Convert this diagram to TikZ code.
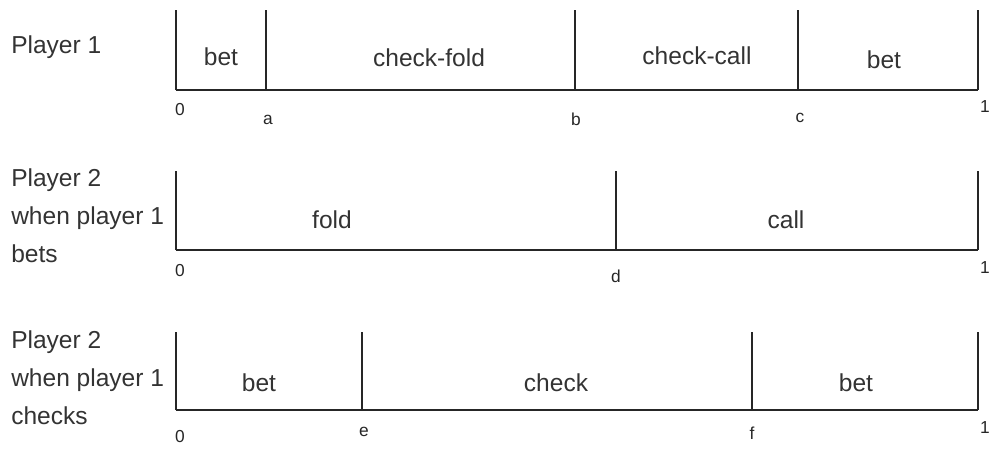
\documentclass[tikz,border=0pt]{standalone}
\usepackage{fontspec}
\setmainfont{Liberation Sans}
\usetikzlibrary{positioning}
\tikzset{>=latex}
\tikzset{axisline/.style={line width=1pt, draw=black!85}}
\tikzset{seglabel/.style={font=\fontsize{18.4}{22}\selectfont, text=black!80, inner sep=0pt}}
\tikzset{ticklabel/.style={font=\fontsize{13}{15}\selectfont, text=black!85, inner sep=0pt}}
\tikzset{rowlabel/.style={font=\fontsize{18.4}{28.5}\selectfont, align=left,
    text=black!80, inner sep=0pt}}

\begin{document}
\begin{tikzpicture}[x=0.75pt, y=-0.75pt]
  \useasboundingbox (0,0) rectangle (997,450);
  % row 1: player 1
  \foreach \name/\x in {oz/176, oa/266, ob/575, oc/798, oo/978} {
    \coordinate (\name) at (\x,90);
    \coordinate (\name-top) at (\x,10);
  }
  \draw[axisline] (oz) -- (oo);
  \foreach \name in {oz, oa, ob, oc, oo}
    \draw[axisline] (\name) -- (\name-top);
  \node[rowlabel, anchor=base west] (pone) at (11,53) {Player 1};
  \node[seglabel] (obet) at (221,57) {bet};
  \node[seglabel] (ocf) at (429,58) {check-fold};
  \node[seglabel] (occ) at (697,56) {check-call};
  \node[seglabel] (obet2) at (884,60) {bet};
  \node[ticklabel] (ozl) at (180,110) {0};
  \node[ticklabel] (oal) at (268,120) {a};
  \node[ticklabel] (obl) at (576,119) {b};
  \node[ticklabel] (ocl) at (800,118) {c};
  \node[ticklabel] (ool) at (985,107) {1};

  % row 2: player 2 after a bet
  \foreach \name/\x in {tz/176, td/616, to/978} {
    \coordinate (\name) at (\x,250);
    \coordinate (\name-top) at (\x,171);
  }
  \draw[axisline] (tz) -- (to);
  \foreach \name in {tz, td, to}
    \draw[axisline] (\name) -- (\name-top);
  \node[rowlabel, anchor=west] (ptwo) at (11,216) {Player 2\\when player 1\\bets};
  \node[seglabel] (tfold) at (332,220) {fold};
  \node[seglabel] (tcall) at (786,220) {call};
  \node[ticklabel] (tzl) at (180,271) {0};
  \node[ticklabel] (tdl) at (616,276) {d};
  \node[ticklabel] (tol) at (985,268) {1};

  % row 3: player 2 after a check
  \foreach \name/\x in {hz/176, he/362, hf/752, ho/978} {
    \coordinate (\name) at (\x,410);
    \coordinate (\name-top) at (\x,332);
  }
  \draw[axisline] (hz) -- (ho);
  \foreach \name in {hz, he, hf, ho}
    \draw[axisline] (\name) -- (\name-top);
  \node[rowlabel, anchor=west] (pthree) at (11,378) {Player 2\\when player 1\\checks};
  \node[seglabel] (hbet) at (259,383) {bet};
  \node[seglabel] (hcheck) at (556,383) {check};
  \node[seglabel] (hbet2) at (856,383) {bet};
  \node[ticklabel] (hzl) at (180,437) {0};
  \node[ticklabel] (hel) at (364,432) {e};
  \node[ticklabel] (hfl) at (752,433) {f};
  \node[ticklabel] (hol) at (985,428) {1};
\end{tikzpicture}
\end{document}
